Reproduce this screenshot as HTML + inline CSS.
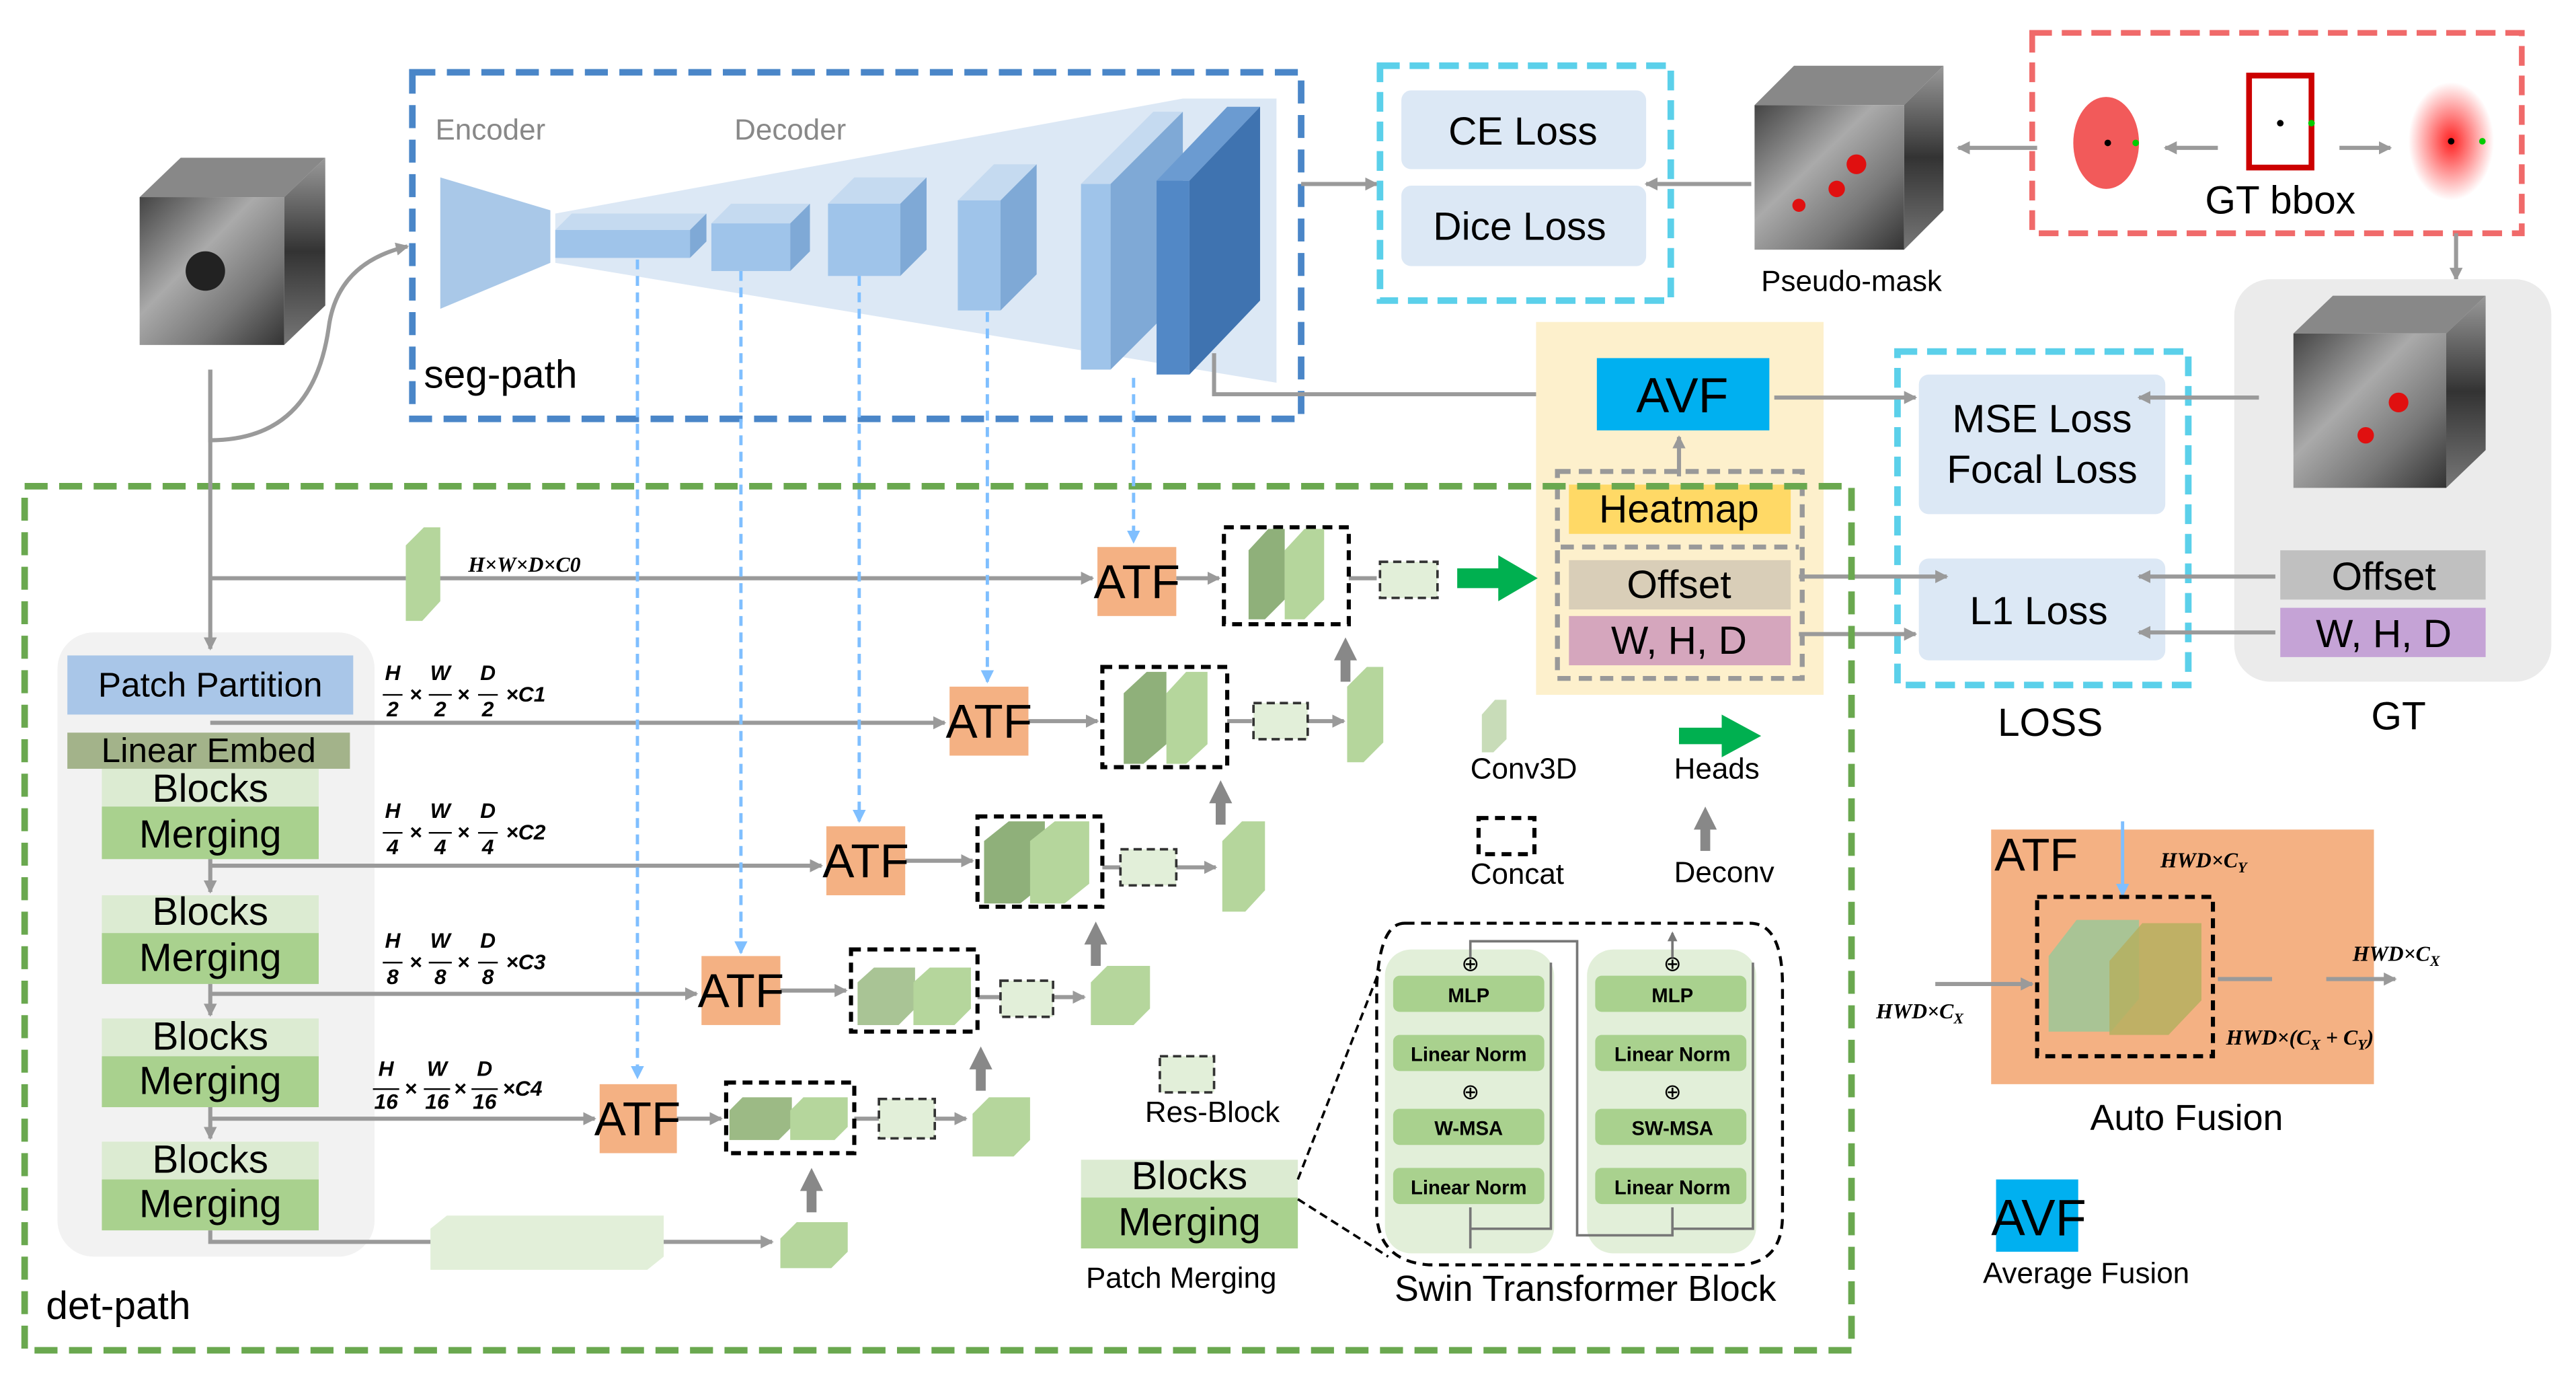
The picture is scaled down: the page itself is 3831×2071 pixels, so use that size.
<!DOCTYPE html>
<html><head><meta charset="utf-8"><style>
html,body{margin:0;padding:0;background:#fff}
svg{display:block}
text{font-family:"Liberation Sans",sans-serif}
.m{font-family:"Liberation Serif",serif;font-style:italic;font-weight:bold}
</style></head><body>
<svg width="3831" height="2071" viewBox="0 0 1568 848" preserveAspectRatio="none" xmlns="http://www.w3.org/2000/svg">
<defs>
<marker id="ag" markerWidth="8" markerHeight="8" refX="7" refY="4" orient="auto" markerUnits="userSpaceOnUse"><path d="M0,0 L8,4 L0,8 Z" fill="#9a9a9a"/></marker>
<marker id="ab" markerWidth="8" markerHeight="8" refX="7" refY="4" orient="auto" markerUnits="userSpaceOnUse"><path d="M0,0 L8,4 L0,8 Z" fill="#7fbfff"/></marker>
<marker id="ad" markerWidth="6" markerHeight="6" refX="5" refY="3" orient="auto" markerUnits="userSpaceOnUse"><path d="M0,0 L6,3 L0,6 Z" fill="#777"/></marker>
<linearGradient id="ct" x1="0" y1="0" x2="1" y2="1"><stop offset="0" stop-color="#444"/><stop offset=".4" stop-color="#aaa"/><stop offset=".7" stop-color="#777"/><stop offset="1" stop-color="#333"/></linearGradient>
<linearGradient id="ct2" x1="0" y1="0" x2="0" y2="1"><stop offset="0" stop-color="#999"/><stop offset=".5" stop-color="#333"/><stop offset="1" stop-color="#777"/></linearGradient>
<radialGradient id="rg"><stop offset="0" stop-color="#ff2020"/><stop offset="1" stop-color="#ff2020" stop-opacity="0"/></radialGradient>
</defs>

<!-- top-left CT cube -->
<polygon points="85,120 110,96 198,96 173,120" fill="#888"/>
<polygon points="173,120 198,96 198,186 173,210" fill="url(#ct2)"/>
<rect x="85" y="120" width="88" height="90" fill="url(#ct)"/>
<circle cx="125" cy="165" r="12" fill="#222"/>
<path d="M128,225 L128,268 Q190,268 200,200 Q205,160 248,150" fill="none" stroke="#9a9a9a" stroke-width="2.5" marker-end="url(#ag)"/>

<!-- seg path -->
<rect x="251" y="44" width="541" height="211" fill="none" stroke="#4a86c8" stroke-width="4" stroke-dasharray="14,7"/>
<text x="265" y="85" font-size="18" fill="#888">Encoder</text>
<text x="447" y="85" font-size="18" fill="#888">Decoder</text>
<polygon points="338,130 720,60 777,60 777,233 338,160" fill="#dce8f5"/>
<polygon points="268,108 335,128 335,160 268,188" fill="#a9c8e8"/>
<polygon points="338,140 348,130 430,130 420,140" fill="#c5daf0"/><rect x="338" y="140" width="82" height="17" fill="#9fc4ea"/><polygon points="420,140 430,130 430,147 420,157" fill="#7fa9d6"/>
<polygon points="433,136 445,124 493,124 481,136" fill="#c5daf0"/><rect x="433" y="136" width="48" height="29" fill="#9fc4ea"/><polygon points="481,136 493,124 493,153 481,165" fill="#7fa9d6"/>
<polygon points="504,124 520,108 564,108 548,124" fill="#c5daf0"/><rect x="504" y="124" width="44" height="44" fill="#9fc4ea"/><polygon points="548,124 564,108 564,152 548,168" fill="#7fa9d6"/>
<polygon points="583,122 605,100 631,100 609,122" fill="#c5daf0"/><rect x="583" y="122" width="26" height="67" fill="#9fc4ea"/><polygon points="609,122 631,100 631,167 609,189" fill="#7fa9d6"/>
<polygon points="658,112 702,68 720,68 676,112" fill="#c5daf0"/><rect x="658" y="112" width="18" height="113" fill="#9fc4ea"/><polygon points="676,112 720,68 720,181 676,225" fill="#7fa9d6"/>
<polygon points="704,110 747,65 767,65 724,110" fill="#6b9bd1"/><rect x="704" y="110" width="20" height="118" fill="#5288c6"/><polygon points="724,110 767,65 767,183 724,228" fill="#3f73b0"/>
<text x="258" y="236" font-size="24" fill="#000">seg-path</text>
<polyline points="739,215 739,240 970,240" fill="none" stroke="#9a9a9a" stroke-width="2.5" marker-end="url(#ag)"/>
<line x1="792" y1="112" x2="838" y2="112" stroke="#9a9a9a" stroke-width="2.5" marker-end="url(#ag)"/>

<!-- CE/Dice -->
<rect x="840" y="40" width="177" height="143" fill="none" stroke="#5bd0ea" stroke-width="4" stroke-dasharray="12,6"/>
<rect x="853" y="55" width="149" height="48" rx="6" fill="#dce8f5"/>
<rect x="853" y="113" width="149" height="49" rx="6" fill="#dce8f5"/>
<text x="927" y="88" font-size="24" text-anchor="middle">CE Loss</text>
<text x="925" y="146" font-size="24" text-anchor="middle">Dice Loss</text>
<line x1="1066" y1="112" x2="1002" y2="112" stroke="#9a9a9a" stroke-width="2.5" marker-end="url(#ag)"/>

<!-- pseudo mask cube -->
<polygon points="1068,64 1092,40 1183,40 1159,64" fill="#888"/>
<polygon points="1159,64 1183,40 1183,128 1159,152" fill="url(#ct2)"/>
<rect x="1068" y="64" width="91" height="88" fill="url(#ct)"/>
<circle cx="1130" cy="100" r="6" fill="#e01010"/><circle cx="1118" cy="115" r="5" fill="#e01010"/><circle cx="1095" cy="125" r="4" fill="#e01010"/>
<text x="1072" y="177" font-size="18">Pseudo-mask</text>
<line x1="1240" y1="90" x2="1192" y2="90" stroke="#9a9a9a" stroke-width="2.5" marker-end="url(#ag)"/>

<!-- GT bbox -->
<rect x="1237" y="20" width="298" height="122" fill="none" stroke="#f06a6a" stroke-width="3.5" stroke-dasharray="12,6"/>
<ellipse cx="1282" cy="87" rx="20" ry="28" fill="#f25a5a"/>
<circle cx="1283" cy="87" r="2" fill="#000"/><circle cx="1300" cy="87" r="2" fill="#0c0"/>
<line x1="1350" y1="90" x2="1318" y2="90" stroke="#9a9a9a" stroke-width="2.5" marker-end="url(#ag)"/>
<rect x="1369" y="46" width="38" height="56" fill="none" stroke="#c00" stroke-width="3.5"/>
<circle cx="1388" cy="75" r="2" fill="#000"/><circle cx="1407" cy="75" r="2" fill="#0c0"/>
<line x1="1424" y1="90" x2="1455" y2="90" stroke="#9a9a9a" stroke-width="2.5" marker-end="url(#ag)"/>
<ellipse cx="1492" cy="86" rx="26" ry="36" fill="url(#rg)"/>
<circle cx="1492" cy="86" r="2" fill="#000"/><circle cx="1511" cy="86" r="2" fill="#0c0"/>
<text x="1388" y="130" font-size="24" text-anchor="middle">GT bbox</text>
<line x1="1495" y1="142" x2="1495" y2="170" stroke="#9a9a9a" stroke-width="2.5" marker-end="url(#ag)"/>

<!-- GT region -->
<rect x="1360" y="170" width="193" height="245" rx="22" fill="#ebebeb"/>
<polygon points="1396,203 1420,180 1513,180 1489,203" fill="#888"/>
<polygon points="1489,203 1513,180 1513,274 1489,297" fill="url(#ct2)"/>
<rect x="1396" y="203" width="93" height="94" fill="url(#ct)"/>
<circle cx="1460" cy="245" r="6" fill="#e01010"/><circle cx="1440" cy="265" r="5" fill="#e01010"/>
<rect x="1388" y="335" width="125" height="30" fill="#c0c0c0"/>
<rect x="1388" y="370" width="125" height="30" fill="#c5a3d6"/>
<text x="1451" y="359" font-size="24" text-anchor="middle">Offset</text>
<text x="1451" y="394" font-size="24" text-anchor="middle">W, H, D</text>
<text x="1460" y="444" font-size="24" text-anchor="middle">GT</text>

<!-- LOSS -->
<rect x="1155" y="214" width="177" height="203" fill="none" stroke="#5bd0ea" stroke-width="4" stroke-dasharray="12,6"/>
<rect x="1168" y="228" width="150" height="85" rx="6" fill="#dce8f5"/>
<rect x="1168" y="340" width="150" height="62" rx="6" fill="#dce8f5"/>
<text x="1243" y="263" font-size="24" text-anchor="middle">MSE Loss</text>
<text x="1243" y="294" font-size="24" text-anchor="middle">Focal Loss</text>
<text x="1241" y="380" font-size="24" text-anchor="middle">L1 Loss</text>
<text x="1248" y="448" font-size="24" text-anchor="middle">LOSS</text>
<line x1="1375" y1="242" x2="1302" y2="242" stroke="#9a9a9a" stroke-width="2.5" marker-end="url(#ag)"/>
<line x1="1385" y1="351" x2="1302" y2="351" stroke="#9a9a9a" stroke-width="2.5" marker-end="url(#ag)"/>
<line x1="1385" y1="385" x2="1302" y2="385" stroke="#9a9a9a" stroke-width="2.5" marker-end="url(#ag)"/>

<!-- yellow heads region -->
<rect x="935" y="196" width="175" height="227" fill="#fdf0cc"/>
<rect x="972" y="218" width="105" height="44" fill="#00b0f0"/>
<text x="1024" y="251" font-size="30" text-anchor="middle">AVF</text>
<rect x="948" y="287" width="149" height="126" fill="none" stroke="#999" stroke-width="3" stroke-dasharray="8,5"/>
<rect x="955" y="295" width="135" height="30" fill="#ffd966"/>
<rect x="955" y="341" width="135" height="30" fill="#d9ceb8"/>
<rect x="955" y="375" width="135" height="30" fill="#d5a6bd"/>
<text x="1022" y="318" font-size="24" text-anchor="middle">Heatmap</text>
<text x="1022" y="364" font-size="24" text-anchor="middle">Offset</text>
<text x="1022" y="398" font-size="24" text-anchor="middle">W, H, D</text>
<line x1="950" y1="333" x2="1095" y2="333" stroke="#999" stroke-width="3" stroke-dasharray="8,5"/>
<line x1="1022" y1="290" x2="1022" y2="266" stroke="#9a9a9a" stroke-width="2.5" marker-end="url(#ag)"/>
<line x1="1080" y1="242" x2="1166" y2="242" stroke="#9a9a9a" stroke-width="2.5" marker-end="url(#ag)"/>
<polyline points="1095,351 1185,351" fill="none" stroke="#9a9a9a" stroke-width="2.5" marker-end="url(#ag)"/>
<line x1="1095" y1="386" x2="1166" y2="386" stroke="#9a9a9a" stroke-width="2.5" marker-end="url(#ag)"/>

<!-- det path -->
<rect x="15" y="296" width="1112" height="526" fill="none" stroke="#6aa84f" stroke-width="4" stroke-dasharray="14,7"/>
<text x="28" y="803" font-size="24">det-path</text>
<rect x="35" y="385" width="193" height="380" rx="22" fill="#f2f2f2"/>
<line x1="128" y1="225" x2="128" y2="395" stroke="#9a9a9a" stroke-width="2.5" marker-end="url(#ag)"/>
<rect x="41" y="399" width="174" height="36" fill="#a9c6e8"/>
<text x="128" y="424" font-size="21" text-anchor="middle">Patch Partition</text>
<rect x="41" y="446" width="172" height="22" fill="#a3b38a"/>
<text x="127" y="464" font-size="21" text-anchor="middle">Linear Embed</text>
<g font-size="24" text-anchor="middle">
<rect x="62" y="468" width="132" height="23" fill="#dcebd2"/><rect x="62" y="491" width="132" height="32" fill="#a9d18e"/>
<text x="128" y="488">Blocks</text><text x="128" y="516">Merging</text>
<rect x="62" y="545" width="132" height="23" fill="#dcebd2"/><rect x="62" y="568" width="132" height="31" fill="#a9d18e"/>
<text x="128" y="563">Blocks</text><text x="128" y="591">Merging</text>
<rect x="62" y="620" width="132" height="23" fill="#dcebd2"/><rect x="62" y="643" width="132" height="31" fill="#a9d18e"/>
<text x="128" y="639">Blocks</text><text x="128" y="666">Merging</text>
<rect x="62" y="695" width="132" height="23" fill="#dcebd2"/><rect x="62" y="718" width="132" height="31" fill="#a9d18e"/>
<text x="128" y="714">Blocks</text><text x="128" y="741">Merging</text>
</g>
<g stroke="#9a9a9a" stroke-width="2.5" fill="none">
<line x1="128" y1="523" x2="128" y2="543" marker-end="url(#ag)"/>
<line x1="128" y1="599" x2="128" y2="618" marker-end="url(#ag)"/>
<line x1="128" y1="674" x2="128" y2="693" marker-end="url(#ag)"/>
<line x1="128" y1="352" x2="665" y2="352" marker-end="url(#ag)"/>
<line x1="128" y1="440" x2="575" y2="440" marker-end="url(#ag)"/>
<line x1="128" y1="527" x2="500" y2="527" marker-end="url(#ag)"/>
<line x1="128" y1="605" x2="424" y2="605" marker-end="url(#ag)"/>
<line x1="128" y1="681" x2="362" y2="681" marker-end="url(#ag)"/>
<polyline points="128,749 128,756 470,756" marker-end="url(#ag)"/>
<line x1="716" y1="352" x2="742" y2="352" marker-end="url(#ag)"/>
<line x1="821" y1="352" x2="838" y2="352"/>
<line x1="626" y1="439" x2="668" y2="439" marker-end="url(#ag)"/>
<line x1="747" y1="439" x2="762" y2="439"/><line x1="796" y1="439" x2="818" y2="439" marker-end="url(#ag)"/>
<line x1="551" y1="524" x2="592" y2="524" marker-end="url(#ag)"/>
<line x1="671" y1="528" x2="682" y2="528"/><line x1="716" y1="528" x2="740" y2="528" marker-end="url(#ag)"/>
<line x1="475" y1="603" x2="515" y2="603" marker-end="url(#ag)"/>
<line x1="595" y1="607" x2="609" y2="607"/><line x1="641" y1="607" x2="660" y2="607" marker-end="url(#ag)"/>
<line x1="412" y1="681" x2="439" y2="681" marker-end="url(#ag)"/>
<line x1="520" y1="681" x2="535" y2="681"/><line x1="569" y1="681" x2="588" y2="681" marker-end="url(#ag)"/>
</g>
<!-- deconv up arrows -->
<g fill="#888">
<polygon points="812,402 826,402 819,388"/><rect x="816" y="401" width="6" height="14"/>
<polygon points="736,489 750,489 743,475"/><rect x="740" y="488" width="6" height="14"/>
<polygon points="660,575 674,575 667,561"/><rect x="664" y="574" width="6" height="14"/>
<polygon points="590,651 604,651 597,637"/><rect x="594" y="650" width="6" height="14"/>
<polygon points="487,725 501,725 494,711"/><rect x="491" y="724" width="6" height="14"/>
<polygon points="1031,505 1045,505 1038,491"/><rect x="1035" y="504" width="6" height="14"/>
</g>
<!-- blue dashed arrows -->
<g stroke="#7fbfff" stroke-width="2" stroke-dasharray="6,4" fill="none">
<line x1="690" y1="230" x2="690" y2="330" marker-end="url(#ab)"/>
<line x1="601" y1="190" x2="601" y2="415" marker-end="url(#ab)"/>
<line x1="523" y1="168" x2="523" y2="500" marker-end="url(#ab)"/>
<line x1="451" y1="165" x2="451" y2="580" marker-end="url(#ab)"/>
<line x1="388" y1="158" x2="388" y2="656" marker-end="url(#ab)"/>
</g>
<!-- ATF boxes -->
<g fill="#f4b183">
<rect x="668" y="333" width="48" height="42"/><rect x="578" y="418" width="48" height="42"/>
<rect x="503" y="503" width="48" height="42"/><rect x="427" y="582" width="48" height="42"/>
<rect x="365" y="660" width="47" height="42"/>
</g>
<g font-size="29" text-anchor="middle">
<text x="692" y="364">ATF</text><text x="602" y="449">ATF</text><text x="527" y="534">ATF</text>
<text x="451" y="613">ATF</text><text x="388" y="691">ATF</text>
</g>
<!-- concat boxes with green slabs -->
<g stroke="#000" stroke-width="2.5" stroke-dasharray="6,4" fill="none">
<rect x="745" y="321" width="76" height="59"/><rect x="671" y="406" width="76" height="61"/>
<rect x="595" y="497" width="76" height="55"/><rect x="518" y="578" width="77" height="50"/>
<rect x="442" y="659" width="78" height="43"/>
</g>
<g>
<polygon points="760,335 772,322 782,322 782,365 770,377 760,377" fill="#8fb07a"/>
<polygon points="782,335 794,322 806,322 806,365 794,377 782,377" fill="#b5d69c"/>
<polygon points="684,422 698,409 710,409 710,453 696,465 684,465" fill="#8fb07a"/>
<polygon points="710,422 722,409 735,409 735,453 722,465 710,465" fill="#b5d69c"/>
<polygon points="599,512 614,500 636,500 636,538 621,550 599,550" fill="#8fb07a"/>
<polygon points="627,512 642,500 663,500 663,538 648,550 627,550" fill="#b5d69c"/>
<polygon points="522,598 532,589 557,589 557,614 547,624 522,624" fill="#a9c495"/>
<polygon points="556,598 566,589 591,589 591,614 581,624 556,624" fill="#b5d69c"/>
<polygon points="444,676 452,668 482,668 482,686 474,694 444,694" fill="#9cba85"/>
<polygon points="481,676 489,668 516,668 516,686 508,694 481,694" fill="#b5d69c"/>
</g>
<!-- res blocks -->
<g fill="#e2efd9" stroke="#333" stroke-width="1.5" stroke-dasharray="5,3">
<rect x="840" y="342" width="35" height="22"/><rect x="763" y="428" width="33" height="22"/>
<rect x="682" y="517" width="34" height="22"/><rect x="609" y="597" width="32" height="22"/>
<rect x="535" y="669" width="34" height="24"/><rect x="706" y="643" width="33" height="22"/>
<rect x="1383" y="585" width="33" height="22"/>
</g>
<!-- small green cubes -->
<g>
<polygon points="247,332 258,321 268,321 268,366 257,378 247,378" fill="#b5d69c"/>
<polygon points="820,418 832,406 842,406 842,452 830,464 820,464" fill="#b5d69c"/>
<polygon points="744,512 756,500 770,500 770,542 758,555 744,555" fill="#b5d69c"/>
<polygon points="664,598 674,588 700,588 700,614 690,624 664,624" fill="#b5d69c"/>
<polygon points="592,678 602,668 627,668 627,694 617,704 592,704" fill="#b5d69c"/>
<polygon points="475,754 485,744 516,744 516,762 506,772 475,772" fill="#b5d69c"/>
<polygon points="262,748 272,740 404,740 404,765 394,773 262,773" fill="#e2efd9"/>
<polygon points="902,435 910,426 917,426 917,450 909,458 902,458" fill="#c8dcb8"/>
</g>
<!-- dims -->
<text x="285" y="348" class="m" font-size="13">H×W×D×C0</text>
<g class="m" font-size="13" text-anchor="middle">
<text x="239" y="414">H</text><text x="268" y="414">W</text><text x="297" y="414">D</text>
<text x="239" y="436">2</text><text x="268" y="436">2</text><text x="297" y="436">2</text>
<text x="253" y="427">×</text><text x="282" y="427">×</text><text x="320" y="427">×C1</text>
<text x="239" y="498">H</text><text x="268" y="498">W</text><text x="297" y="498">D</text>
<text x="239" y="520">4</text><text x="268" y="520">4</text><text x="297" y="520">4</text>
<text x="253" y="511">×</text><text x="282" y="511">×</text><text x="320" y="511">×C2</text>
<text x="239" y="577">H</text><text x="268" y="577">W</text><text x="297" y="577">D</text>
<text x="239" y="599">8</text><text x="268" y="599">8</text><text x="297" y="599">8</text>
<text x="253" y="590">×</text><text x="282" y="590">×</text><text x="320" y="590">×C3</text>
<text x="235" y="655">H</text><text x="266" y="655">W</text><text x="295" y="655">D</text>
<text x="235" y="675">16</text><text x="266" y="675">16</text><text x="295" y="675">16</text>
<text x="250" y="667">×</text><text x="280" y="667">×</text><text x="318" y="667">×C4</text>
</g>
<g stroke="#000" stroke-width="1">
<line x1="233" y1="423" x2="245" y2="423"/><line x1="261" y1="423" x2="275" y2="423"/><line x1="291" y1="423" x2="303" y2="423"/>
<line x1="233" y1="507" x2="245" y2="507"/><line x1="261" y1="507" x2="275" y2="507"/><line x1="291" y1="507" x2="303" y2="507"/>
<line x1="233" y1="586" x2="245" y2="586"/><line x1="261" y1="586" x2="275" y2="586"/><line x1="291" y1="586" x2="303" y2="586"/>
<line x1="227" y1="663" x2="243" y2="663"/><line x1="258" y1="663" x2="274" y2="663"/><line x1="287" y1="663" x2="303" y2="663"/>
</g>
<!-- green head arrow -->
<polygon points="887,346 912,346 912,338 936,352 912,366 912,358 887,358" fill="#00b050"/>
<!-- legend -->
<text x="895" y="474" font-size="18">Conv3D</text>
<polygon points="1022,443 1048,443 1048,435 1072,448 1048,461 1048,453 1022,453" fill="#00b050"/>
<text x="1019" y="474" font-size="18">Heads</text>
<rect x="900" y="498" width="34" height="22" fill="none" stroke="#000" stroke-width="2.5" stroke-dasharray="6,4"/>
<text x="895" y="538" font-size="18">Concat</text>
<text x="1019" y="537" font-size="18">Deconv</text>
<text x="697" y="683" font-size="18">Res-Block</text>
<rect x="658" y="706" width="132" height="23" fill="#dcebd2"/><rect x="658" y="729" width="132" height="31" fill="#a9d18e"/>
<text x="724" y="724" font-size="24" text-anchor="middle">Blocks</text><text x="724" y="752" font-size="24" text-anchor="middle">Merging</text>
<text x="661" y="784" font-size="18">Patch Merging</text>
<line x1="790" y1="718" x2="840" y2="590" stroke="#000" stroke-width="1.5" stroke-dasharray="5,3"/>
<line x1="790" y1="730" x2="845" y2="765" stroke="#000" stroke-width="1.5" stroke-dasharray="5,3"/>
<!-- swin -->
<path d="M855,562 L1065,562 Q1085,562 1085,600 L1085,740 Q1085,768 1060,770 L870,770 Q840,768 838,740 L838,600 Q840,562 855,562 Z" fill="none" stroke="#000" stroke-width="1.8" stroke-dasharray="6,4"/>
<rect x="843" y="578" width="103" height="185" rx="16" fill="#e2efd9"/>
<rect x="966" y="578" width="103" height="185" rx="16" fill="#e2efd9"/>
<g fill="#a9d18e">
<rect x="848" y="594" width="92" height="22" rx="4"/><rect x="848" y="630" width="92" height="22" rx="4"/>
<rect x="848" y="675" width="92" height="22" rx="4"/><rect x="848" y="711" width="92" height="22" rx="4"/>
<rect x="971" y="594" width="92" height="22" rx="4"/><rect x="971" y="630" width="92" height="22" rx="4"/>
<rect x="971" y="675" width="92" height="22" rx="4"/><rect x="971" y="711" width="92" height="22" rx="4"/>
</g>
<g font-size="12" font-weight="bold" text-anchor="middle">
<text x="894" y="610">MLP</text><text x="894" y="646">Linear Norm</text><text x="894" y="691">W-MSA</text><text x="894" y="727">Linear Norm</text>
<text x="1018" y="610">MLP</text><text x="1018" y="646">Linear Norm</text><text x="1018" y="691">SW-MSA</text><text x="1018" y="727">Linear Norm</text>
</g>
<g font-size="13" text-anchor="middle"><text x="895" y="591">⊕</text><text x="895" y="669">⊕</text><text x="1018" y="591">⊕</text><text x="1018" y="669">⊕</text></g>
<g stroke="#777" stroke-width="1.5" fill="none">
<polyline points="895,583 895,573 960,573 960,752 1018,752 1018,735"/>
<line x1="1018" y1="583" x2="1018" y2="568" marker-end="url(#ad)"/>
<polyline points="944,586 944,748 895,748"/><polyline points="1067,586 1067,748 1018,748"/>
<line x1="895" y1="760" x2="895" y2="735"/>
</g>
<text x="965" y="792" font-size="22" text-anchor="middle">Swin Transformer Block</text>
<!-- auto fusion -->
<rect x="1212" y="505" width="233" height="155" fill="#f4b183"/>
<text x="1214" y="530" font-size="28">ATF</text>
<text x="1315" y="528" class="m" font-size="13">HWD×C<tspan font-size="9" dy="3">Y</tspan></text>
<line x1="1292" y1="500" x2="1292" y2="545" stroke="#7fbfff" stroke-width="2" marker-end="url(#ab)"/>
<rect x="1240" y="546" width="107" height="97" fill="none" stroke="#000" stroke-width="2.5" stroke-dasharray="6,4"/>
<polygon points="1247,582 1264,560 1302,560 1302,608 1285,628 1247,628" fill="#a9c495"/>
<polygon points="1284,585 1304,562 1340,562 1340,609 1320,630 1284,630" fill="#b5b060" opacity=".85"/>
<line x1="1178" y1="599" x2="1237" y2="599" stroke="#9a9a9a" stroke-width="2.5" marker-end="url(#ag)"/>
<line x1="1350" y1="596" x2="1383" y2="596" stroke="#9a9a9a" stroke-width="2.5"/>
<line x1="1416" y1="596" x2="1458" y2="596" stroke="#9a9a9a" stroke-width="2.5" marker-end="url(#ag)"/>
<text x="1142" y="620" class="m" font-size="13">HWD×C<tspan font-size="9" dy="3">X</tspan></text>
<text x="1432" y="585" class="m" font-size="13">HWD×C<tspan font-size="9" dy="3">X</tspan></text>
<text x="1355" y="636" class="m" font-size="13">HWD×(C<tspan font-size="9" dy="3">X</tspan><tspan dy="-3"> + C</tspan><tspan font-size="9" dy="3">Y</tspan><tspan dy="-3">)</tspan></text>
<text x="1331" y="688" font-size="22" text-anchor="middle">Auto Fusion</text>
<rect x="1215" y="718" width="50" height="44" fill="#00b0f0"/>
<text x="1212" y="752" font-size="31">AVF</text>
<text x="1207" y="781" font-size="18">Average Fusion</text>
</svg>
</body></html>
